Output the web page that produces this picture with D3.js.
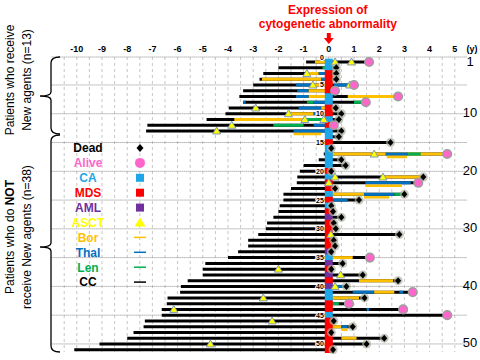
<!DOCTYPE html>
<html>
<head>
<meta charset="utf-8">
<script src="https://cdn.jsdelivr.net/npm/d3@7"></script>
<style>
	body { margin: 0; background: #fff; }
	svg { display: block; font-family: "Liberation Sans", Arial, sans-serif; }
</style>
</head>
<body>
<div id="chart"></div>
<script>
// years from diagnosis (CC start) relative to expression of the abnormality, one per patient
const onset = [-0.9, -2.0, -2.6, -2.75, -3.0, -3.4, -3.55, -3.4, -3.97, -4.1, -4.85, -7.2, -7.25,
	-0.1, -0.2, -0.15, -0.2, -0.4, -1.0, -1.15, -1.25, -1.27, -1.5, -1.8, -1.8, -1.95, -2.0, -2.2,
	-2.45, -2.5, -2.8, -3.2, -3.2, -3.6, -4.0, -4.9, -5.0, -5.0, -5.6, -5.87, -5.9, -6.4, -6.43,
	-6.63, -6.63, -7.3, -7.35, -7.75, -8.0, -9.1, -10.1];
const abnormality = ["CA", "CA", "MDS", "MDS", "MDS", "MDS", "CA", "CA", "MDS", "MDS", "CA", "MDS", "CA",
	"CA", "MDS", "CA", "CA", "CA", "CA", "MDS", "CA", "MDS", "MDS", "CA", "MDS", "CA", "MDS", "AML",
	"MDS", "MDS", "MDS", "MDS", "MDS", "AML", "CA", "AML", "MDS", "AML", "MDS", "AML", "CA", "CA", "MDS",
	"MDS", "CA", "MDS", "MDS", "MDS", "MDS", "MDS", "MDS"];
const outcome = ["Alive", "Dead", "Dead", "Dead", "Alive", "Alive", "Alive", "Alive", "Dead", "Dead", "Dead", "Alive", "Dead",
	"Dead", "Dead", "Dead", "Alive", "Dead", "Dead", "Dead", "Dead", "Alive", "Dead", "Dead", "Dead", "Dead", "Dead", "Dead",
	"Dead", "Dead", "Dead", "Dead", "Dead", "Dead", "Alive", "Dead", "Dead", "Dead", "Dead", "Dead", "Alive", "Dead", "Alive",
	"Alive", "Alive", "Dead", "Dead", "Dead", "Dead", "Dead", "Dead"];
const outcome_time = [1.6, 0.3, 0.3, 0.3, 1.0, 0.25, 2.75, 1.47, 0.28, 0.5, 0.4, 0.2, 0.5,
	0.4, 2.45, 0.1, 4.7, 0.5, 0.67, 0.1, 3.75, 3.55, 0.25, 3.0, 1.2, 0.1, 0.17, 0.5,
	0.2, 0.28, 2.8, 0.2, 0.25, 0.1, 1.63, 0.55, 0.1, 1.35, 2.75, 0.7, 3.33, 1.42, 0.8,
	2.95, 4.7, 0.2, 0.95, 0.1, 2.2, 1.5, 0.17];
// [patient, year]
const asct = [[1, 0.25], [1, 0.9], [3, -0.87], [5, -0.63], [5, 0.83], [9, -2.9], [10, -1.6], [11, -0.95],
	[11, -0.2], [12, -3.85], [13, -4.45], [17, 1.8], [21, 0.25], [21, 2.15], [22, 0], [31, 0.08], [37, -2.0],
	[38, 0.47], [40, 0.25], [42, -2.6], [44, -6.15], [46, -2.25], [50, -4.7]];
// [patient, drug, from, to, lane]  lane 1 = second line drawn just under the row
const therapy = [
	[1, "Bor", -0.55, 0, 0], [2, "Len", -0.25, 0, 0],
	[3, "Bor", -0.87, -0.4, 0], [3, "Thal", -0.4, 0, 0],
	[4, "Bor", -2.65, -0.3, 0], [4, "Thal", -0.3, 0, 0],
	[5, "Thal", -1.3, -0.63, 0], [5, "Bor", -0.63, -0.2, 0], [5, "Thal", 0.2, 0.8, 0],
	[6, "Thal", -1.25, -0.8, 0], [6, "Bor", -0.8, 0, 0],
	[7, "Thal", -1.3, -0.8, 0], [7, "Bor", -0.8, 0, 0], [7, "Bor", 0.75, 2.75, 0],
	[8, "Thal", -3.4, -3.3, 0], [8, "Len", -0.87, -0.6, 0], [8, "Thal", -0.6, 0, 0], [8, "Len", 1.0, 1.47, 0],
	[9, "Thal", -1.2, -0.3, 0], [9, "Bor", -0.3, 0, 0],
	[10, "Bor", -1.6, -0.6, 0], [10, "Thal", -0.6, 0, 0],
	[11, "Bor", -3.75, -1.0, 0], [11, "Len", -0.9, -0.2, 0],
	[12, "Len", -2.2, -1.0, 0], [12, "Thal", -0.6, 0, 0],
	[13, "Thal", -1.4, 0, 0], [13, "Bor", -1.4, -0.3, 1],
	[17, "Bor", 0.12, 4.65, 0], [17, "Thal", 2.25, 3.15, 0], [17, "Len", 3.15, 3.65, 0], [17, "Bor", 2.3, 3.1, 1],
	[21, "Bor", 2.2, 3.75, 0],
	[22, "Thal", 1.45, 3.25, 0], [22, "Bor", 1.45, 2.9, 1],
	[24, "Bor", 0, 1.4, 0], [24, "Thal", 1.4, 2.6, 0], [24, "Len", 2.6, 3.0, 0], [24, "Bor", 1.4, 2.4, 1],
	[25, "Thal", 0, 0.75, 0], [35, "Bor", 0, 0.95, 0], [39, "Bor", 1.2, 2.55, 0], [40, "Thal", 0.3, 0.6, 0],
	[41, "Thal", 0.95, 1.8, 0], [41, "Bor", 1.8, 2.6, 0], [41, "Thal", 2.8, 2.95, 0],
	[42, "Bor", 0, 1.2, 0], [43, "Len", 0, 0.4, 0], [44, "Thal", 1.5, 1.6, 0],
	[47, "Bor", 0, 0.5, 0], [47, "Thal", 0.5, 0.75, 0], [47, "Bor", 0.5, 0.75, 1],
	[49, "Bor", 0.5, 1.1, 0]
];
const year_ticks = [-10, -9, -8, -7, -6, -5, -4, -3, -2, -1, 0, 1, 2, 3, 4, 5];
const row_labels = [1, 10, 20, 30, 40, 50];
const center_labels = [0, 5, 10, 15, 20, 25, 30, 35, 40, 45, 50];
const legend_items = ["Dead", "Alive", "CA", "MDS", "AML", "ASCT", "Bor", "Thal", "Len", "CC"];

const colors = {
	Dead: "#000000", Alive: "#ff66cc", CA: "#1ea7e8", MDS: "#ff0000", AML: "#7030a0",
	ASCT: "#ffff00", Bor: "#ffc000", Thal: "#0070c0", Len: "#00b050", CC: "#000000"
};

class cyto_chart {

	constructor(el) {
		this.element = el;
		this.init();
	}

	init() {
		this.w = 480;
		this.h = 360;
		this.svg = d3.select(this.element).append("svg")
			.attr("width", this.w)
			.attr("height", this.h);

		this.create_scales();
		this.create_grid();
		this.create_labels();
		this.create_rows();
		this.create_legend();
	}

	create_scales() {
		this.x = d3.scaleLinear().domain([-11, 5.5]).range([51.6, 467.4]);
		this.y = d3.scaleLinear().domain([0, 51.4]).range([56.2, 352]);
	}

	create_grid() {
		let g = this.svg.append("g").attr("class", "grid");
		let top = 57, bottom = 352;

		g.selectAll(".vgrid")
			.data(d3.range(-21, 11).map(d => d / 2))
			.enter().append("line")
			.attr("x1", d => this.x(d)).attr("x2", d => this.x(d))
			.attr("y1", top).attr("y2", bottom)
			.attr("stroke", "#b8b8b8")
			.attr("stroke-dasharray", "3,3")
			.attr("stroke-width", 0.8);

		g.selectAll(".hgrid")
			.data(d3.range(5, 51, 5))
			.enter().append("line")
			.attr("x1", this.x(-11)).attr("x2", this.x(5.5))
			.attr("y1", d => this.y(d)).attr("y2", d => this.y(d))
			.attr("stroke", "#8a8a8a")
			.attr("stroke-dasharray", "1,1")
			.attr("stroke-width", 1);

		g.append("line")
			.attr("x1", this.x(-11)).attr("x2", this.x(5.5))
			.attr("y1", top).attr("y2", top)
			.attr("stroke", "#8a8a8a")
			.attr("stroke-dasharray", "1,1");

		// curly braces on the left
		let braces = [[57, 96, 134], [135, 247, 352]];
		braces.forEach(b => {
			let [a, m, e] = b;
			g.append("path")
				.attr("d", `M60,${a} Q51,${a} 51,${a + 6} L51,${m - 4} Q51,${m} 40,${m} Q51,${m} 51,${m + 4} L51,${e - 6} Q51,${e} 60,${e}`)
				.attr("fill", "none")
				.attr("stroke", "#000")
				.attr("stroke-width", 1.3);
		});
	}

	create_labels() {
		// year ticks along the top
		this.svg.selectAll(".tick_label")
			.data(year_ticks)
			.enter().append("text")
			.attr("x", d => this.x(d))
			.attr("y", 52)
			.attr("text-anchor", "middle")
			.style("font-size", "9px")
			.style("font-weight", "bold")
			.text(d => d);
		this.svg.append("text")
			.attr("x", 472).attr("y", 52)
			.attr("text-anchor", "middle")
			.style("font-size", "9px")
			.style("font-weight", "bold")
			.text("(y)");

		// title and arrow
		let cx = this.x(0);
		let title = this.svg.append("text")
			.attr("text-anchor", "middle")
			.attr("fill", "#ff0000")
			.style("font-size", "12px")
			.style("font-weight", "bold");
		title.append("tspan").attr("x", cx - 1).attr("y", 14).text("Expression of");
		title.append("tspan").attr("x", cx - 1).attr("y", 28).text("cytogenetic abnormality");
		this.svg.append("path")
			.attr("d", `M${cx - 2},33 L${cx + 2},33 L${cx + 2},38 L${cx + 5},38 L${cx},44 L${cx - 5},38 L${cx - 2},38 Z`)
			.attr("fill", "#ff0000");

		// row numbers on the right
		this.svg.selectAll(".row_label")
			.data(row_labels)
			.enter().append("text")
			.attr("x", 470)
			.attr("y", d => this.y(d) - 1)
			.attr("dy", "0.35em")
			.attr("text-anchor", "middle")
			.style("font-size", "13px")
			.text(d => d);

		// group labels
		let groups = [
			{ y: 80, l1: ["Patients who receive"], l2: "New agents (n=13)" },
			{ y: 237, l1: ["Patients who do ", "NOT"], l2: "receive New agents (n=38)" }
		];
		groups.forEach(g => {
			let t1 = this.svg.append("text")
				.attr("transform", `translate(14,${g.y}) rotate(-90)`)
				.attr("text-anchor", "middle")
				.style("font-size", "12px");
			t1.append("tspan").text(g.l1[0]);
			if (g.l1[1]) t1.append("tspan").style("font-weight", "bold").text(g.l1[1]);
			this.svg.append("text")
				.attr("transform", `translate(31,${g.y}) rotate(-90)`)
				.attr("text-anchor", "middle")
				.style("font-size", "12px")
				.text(g.l2);
		});
	}

	create_rows() {
		let rows = onset.map((d, i) => ({
			id: i + 1, start: d, type: abnormality[i], end: outcome[i], t: outcome_time[i]
		}));

		// CC base line
		this.svg.selectAll(".cc")
			.data(rows)
			.enter().append("line")
			.attr("x1", d => this.x(d.start)).attr("x2", d => this.x(d.t))
			.attr("y1", d => this.y(d.id)).attr("y2", d => this.y(d.id))
			.attr("stroke", colors.CC)
			.attr("stroke-width", 3);

		// therapy segments
		this.svg.selectAll(".therapy")
			.data(therapy)
			.enter().append("line")
			.attr("x1", d => this.x(d[2])).attr("x2", d => this.x(d[3]))
			.attr("y1", d => this.y(d[0]) + d[4] * 3).attr("y2", d => this.y(d[0]) + d[4] * 3)
			.attr("stroke", d => colors[d[1]])
			.attr("stroke-width", d => d[4] ? 2.5 : 3);

		// abnormality squares at time 0
		this.svg.selectAll(".abn")
			.data(rows)
			.enter().append("rect")
			.attr("x", this.x(0) - 4)
			.attr("y", d => this.y(d.id) - 3.3)
			.attr("width", 8)
			.attr("height", 6.6)
			.attr("fill", d => colors[d.type]);

		// small row index labels beside the column
		this.svg.selectAll(".center_label")
			.data(center_labels)
			.enter().append("text")
			.attr("x", this.x(0) - 5)
			.attr("y", d => this.y(d) + (d === 0 ? 1 : 0))
			.attr("dy", "0.35em")
			.attr("text-anchor", "end")
			.style("font-size", "7px")
			.style("font-weight", "bold")
			.attr("stroke", "#fff")
			.attr("stroke-width", 2)
			.attr("paint-order", "stroke")
			.text(d => d);

		// ASCT triangles
		this.svg.selectAll(".asct")
			.data(asct)
			.enter().append("path")
			.attr("transform", d => `translate(${this.x(d[1])},${this.y(d[0])})`)
			.attr("d", "M0,-4 L4,3 L-4,3 Z")
			.attr("fill", colors.ASCT)
			.attr("stroke", "#7f98b8")
			.attr("stroke-width", 1);

		// outcome markers
		let ends = this.svg.selectAll(".end")
			.data(rows)
			.enter().append("g")
			.attr("transform", d => `translate(${this.x(d.t)},${this.y(d.id)})`);
		ends.filter(d => d.end === "Dead").append("circle")
			.attr("r", 4.5)
			.attr("fill", "#a8b0a0")
			.attr("opacity", 0.7);
		ends.filter(d => d.end === "Dead").append("path")
			.attr("d", "M0,-3.5 L3,0 L0,3.5 L-3,0 Z")
			.attr("fill", colors.Dead);
		ends.filter(d => d.end === "Alive").append("circle")
			.attr("r", 4.3)
			.attr("fill", colors.Alive)
			.attr("stroke", "#9aa09a")
			.attr("stroke-width", 1.5);
	}

	create_legend() {
		let lg = this.svg.append("g").attr("class", "legend");
		let step = 14.9;
		let items = lg.selectAll(".item")
			.data(legend_items)
			.enter().append("g")
			.attr("transform", (d, i) => `translate(0,${148 + i * step})`);

		items.append("text")
			.attr("x", 88)
			.attr("dy", "0.36em")
			.attr("text-anchor", "middle")
			.attr("fill", d => colors[d])
			.style("font-size", "12px")
			.style("font-weight", "bold")
			.text(d => d);

		let mx = 140;
		items.filter(d => d === "Dead").append("path")
			.attr("d", `M${mx},-4 L${mx + 3.5},0 L${mx},4 L${mx - 3.5},0 Z`)
			.attr("fill", "#000");
		items.filter(d => d === "Alive").append("circle")
			.attr("cx", mx).attr("r", 5)
			.attr("fill", colors.Alive);
		items.filter(d => ["CA", "MDS", "AML"].includes(d)).append("rect")
			.attr("x", mx - 4).attr("y", -4)
			.attr("width", 8).attr("height", 8)
			.attr("fill", d => colors[d]);
		items.filter(d => d === "ASCT").append("path")
			.attr("d", `M${mx},-5 L${mx + 5.5},4 L${mx - 5.5},4 Z`)
			.attr("fill", colors.ASCT);
		items.filter(d => ["Bor", "Thal", "Len", "CC"].includes(d)).append("line")
			.attr("x1", mx - 6).attr("x2", mx + 6)
			.attr("stroke", d => colors[d])
			.attr("stroke-width", 1.5);
	}
}

new cyto_chart("#chart");
</script>
</body>
</html>
